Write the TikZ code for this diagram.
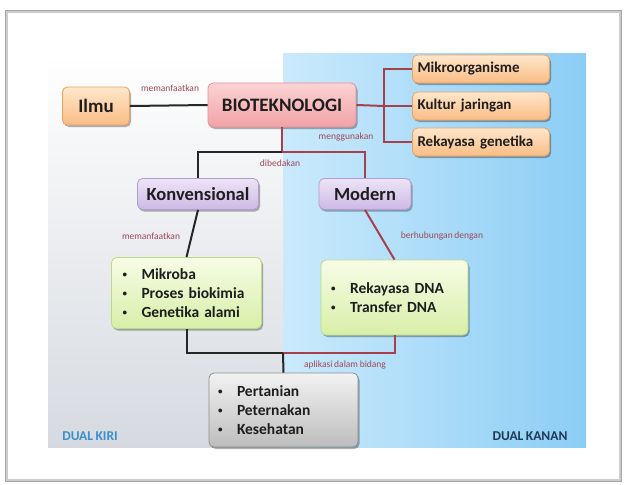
\documentclass[tikz,border=0pt]{standalone}
\usepackage{fontspec}
\setmainfont{Carlito}[WordSpace=0.8]
\usetikzlibrary{shadows}
\definecolor{redline}{HTML}{A8404C}
\definecolor{lbl}{HTML}{A04858}
\definecolor{orfill1}{HTML}{FFE7CC}
\definecolor{orfill2}{HTML}{F9BC84}
\definecolor{ordraw}{HTML}{EDA060}
\definecolor{pkfill1}{HTML}{FBD3D4}
\definecolor{pkfill2}{HTML}{F2A2A6}
\definecolor{pkdraw}{HTML}{E58E93}
\definecolor{pufill1}{HTML}{EDE4F6}
\definecolor{pufill2}{HTML}{CDB9E6}
\definecolor{pudraw}{HTML}{B19DD2}
\definecolor{grfill1}{HTML}{F7FCE6}
\definecolor{grfill2}{HTML}{D7EFA8}
\definecolor{grdraw}{HTML}{BCDB86}
\definecolor{gyfill1}{HTML}{F2F2F2}
\definecolor{gyfill2}{HTML}{BDBDBD}
\definecolor{gydraw}{HTML}{8C8C8C}
\definecolor{txt}{HTML}{1E1E1E}
\tikzset{
  box/.style={rounded corners=5pt, line width=0.8pt, inner sep=0pt, font=\bfseries, text=txt,
    drop shadow={shadow xshift=1.5pt, shadow yshift=-2pt, opacity=0.3, fill=black}},
  orbox/.style={box, top color=orfill1, bottom color=orfill2, draw=ordraw},
  pkbox/.style={box, top color=pkfill1, bottom color=pkfill2, draw=pkdraw},
  pubox/.style={box, top color=pufill1, bottom color=pufill2, draw=pudraw},
  grbox/.style={box, top color=grfill1, bottom color=grfill2, draw=grdraw},
  gybox/.style={box, top color=gyfill1, bottom color=gyfill2, draw=gydraw},
  blk/.style={line width=2pt, draw=black!85},
  red/.style={line width=2pt, draw=redline},
  lab/.style={font=\fontsize{9.5}{11}\selectfont, text=lbl},
  rbox/.style={orbox, minimum width=137pt, minimum height=28pt, text width=127pt, align=left, font=\bfseries\fontsize{15}{17}\selectfont},
  listtxt/.style={align=left, font=\bfseries\fontsize{15.5}{19}\selectfont},
}
\newcommand{\bul}[1]{\makebox[19pt][l]{\raisebox{0.3ex}{\fontsize{9}{9}\selectfont •}}#1}
\begin{document}
\begin{tikzpicture}[x=1pt,y=-1pt]
\useasboundingbox (0,0) rectangle (625,485);
\fill[white] (0,0) rectangle (625,485);
% frame
\draw[gray!40, line width=3pt] (6,11) rectangle (620,480);
\draw[gray!70, line width=0.8pt] (5,10) rectangle (621,481);
% panels
\shade[top color=white, bottom color={rgb,255:red,214;green,218;blue,224}] (48,53) rectangle (283,447);
\shade[left color={rgb,255:red,202;green,234;blue,252}, right color={rgb,255:red,140;green,205;blue,245}] (283,53) rectangle (586,447);
% nodes
\node[orbox, minimum width=67pt, minimum height=38pt, font=\bfseries\fontsize{19}{22}\selectfont] (ilmu) at (96,106) {Ilmu};
\node[pkbox, minimum width=148pt, minimum height=44pt, font=\bfseries\fontsize{19}{22}\selectfont] (bio) at (282,105) {BIOTEKNOLOGI};
\node[rbox] (mikro) at (481,69) {Mikroorganisme};
\node[rbox] (kultur) at (481,106) {Kultur jaringan};
\node[rbox] (rekgen) at (481,142) {Rekayasa genetika};
\node[pubox, minimum width=121pt, minimum height=31pt, font=\bfseries\fontsize{18.5}{21}\selectfont] (konv) at (198,194) {Konvensional};
\node[pubox, minimum width=92pt, minimum height=31pt, font=\bfseries\fontsize{18.5}{21}\selectfont] (modern) at (365,194) {Modern};
\node[grbox, listtxt, minimum width=150pt, minimum height=71pt, text width=128pt] (mikroba) at (186.5,293)
  {\bul{Mikroba}\\\bul{Proses biokimia}\\\bul{Genetika alami}};
\node[grbox, listtxt, minimum width=147pt, minimum height=75pt, text width=127pt] (dna) at (394.5,297.5)
  {\bul{Rekayasa DNA}\\\bul{Transfer DNA}};
\node[gybox, listtxt, minimum width=149pt, minimum height=74pt, text width=131pt] (tani) at (283.5,410)
  {\bul{Pertanian}\\\bul{Peternakan}\\\bul{Kesehatan}};
% connectors
\coordinate (bar) at (384,106);
\coordinate (split) at (282,152);
\coordinate (join) at (283,353);
\draw[blk] (ilmu.east) -- (bio.west);
\draw[red] (bio.east) -- (bar);
\draw[red] (bar) |- (mikro.west);
\draw[red] (bar) |- (rekgen.west);
\draw[red] (bar) -- (kultur.west);
\draw[red] (bio.south) -- (split);
\draw[blk] (split) -| (konv.north);
\draw[red] (split) -| (modern.north);
\draw[blk] (konv.south) -- (mikroba.north);
\draw[red] (modern.south) -- (dna.north);
\draw[blk] (mikroba.south) |- (join);
\draw[red] (dna.south) |- (join);
\draw[blk] (join) -- (tani.north);
% labels
\node[lab] (l1) at (170,88) {memanfaatkan};
\node[lab] (l2) at (346,137) {menggunakan};
\node[lab] (l3) at (280,163) {dibedakan};
\node[lab] (l4) at (151,236) {memanfaatkan};
\node[lab] (l5) at (442,236) {berhubungan dengan};
\node[lab] (l6) at (345,365) {aplikasi dalam bidang};
\node[font=\bfseries\fontsize{13.5}{15}\selectfont, text={rgb,255:red,58;green,143;blue,208}] (dk) at (90,436) {DUAL KIRI};
\node[font=\bfseries\fontsize{13.5}{15}\selectfont, text={rgb,255:red,30;green,58;blue,86}] (dn) at (530,436) {DUAL KANAN};
\end{tikzpicture}
\end{document}
